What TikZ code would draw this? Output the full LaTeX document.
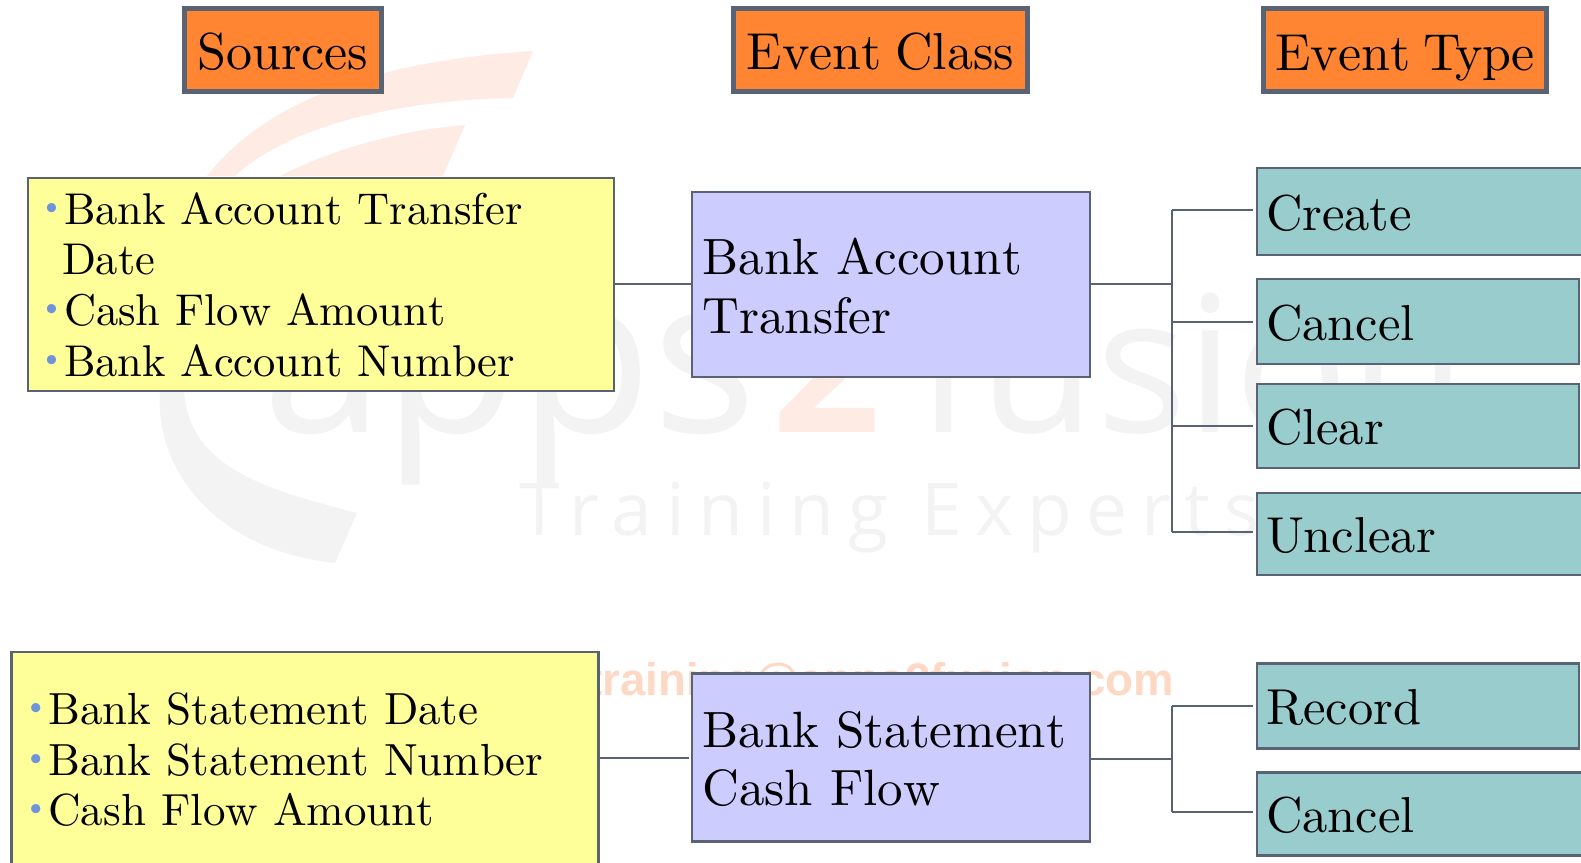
\documentclass[tikz,border=0pt]{standalone}
\usepackage{fontspec}
\setmainfont{lmroman10-regular.otf}[BoldFont=lmroman10-bold.otf,ItalicFont=lmroman10-italic.otf,Kerning=Off,WordSpace=0.75]
\newfontfamily\wmsans{Open Sans}
\newfontfamily\wmtrack[LetterSpace=19]{Open Sans}
\newfontfamily\wmbold{Liberation Sans}
\definecolor{edge}{HTML}{5A6374}
\definecolor{orangefill}{HTML}{FF8533}
\definecolor{yellowfill}{HTML}{FFFF99}
\definecolor{purplefill}{HTML}{CCCCFF}
\definecolor{tealfill}{HTML}{99CCCC}
\definecolor{bul}{HTML}{6F94DC}
\definecolor{wmgray}{HTML}{F3F3F3}
\definecolor{wmorange}{HTML}{FDEBE4}
\definecolor{wmmail}{HTML}{FDD9C5}
\newcommand{\blt}{\makebox[25pt][l]{\raisebox{9pt}{\fontsize{32}{32}\selectfont\color{bul}\textbullet}}}
\tikzset{
  boxbase/.style={rectangle,draw=edge,line width=2.6pt,align=left,anchor=center,text=black},
  lowered/.style={execute at begin node={\rule{0pt}{#1}}},
  headbox/.style={boxbase,fill=orangefill,line width=4.5pt,align=center,font=\fontsize{52}{58}\selectfont,inner sep=0pt,lowered=40pt},
  srcbox/.style={boxbase,fill=yellowfill,inner xsep=0pt,inner ysep=0pt},
  classbox/.style={boxbase,fill=purplefill,font=\fontsize{51}{58.5}\selectfont,inner xsep=10.5pt,inner ysep=0pt,lowered=39.5pt},
  typebox/.style={boxbase,fill=tealfill,font=\fontsize{50.5}{58}\selectfont,inner xsep=9pt,inner ysep=0pt,lowered=39pt},
  link/.style={draw=edge,line width=2.6pt},
  wmtext/.style={anchor=base west,inner sep=0pt}
}
\begin{document}
\begin{tikzpicture}[x=1pt,y=-1pt]
\useasboundingbox (0,0) rectangle (1581,862);
% watermark
\fill[wmorange] (207,176) .. controls (270,95) and (390,60) .. (533,51) -- (513,98) .. controls (400,100) and (290,125) .. (235,176) -- cycle;
\fill[wmorange] (280,176) .. controls (330,150) and (400,130) .. (465,125) -- (443,176) -- cycle;
\fill[wmgray] (200,392) -- (160,392) .. controls (155,470) and (215,550) .. (335,563) -- (357,513) .. controls (270,490) and (190,470) .. (184,392) -- cycle;
\node[wmtext,text=wmgray,font=\wmsans\fontsize{219}{219}\selectfont] (wmapps) at (262,432) {apps};
\node[wmtext,text=wmorange,font=\wmsans\bfseries\fontsize{190}{190}\selectfont] (wmtwo) at (772,432) {2};
\node[wmtext,text=wmgray,font=\wmsans\fontsize{190}{190}\selectfont] (wmfusion) at (915,432) {fusion};
\node[wmtext,text=wmgray,font=\wmtrack\fontsize{73}{73}\selectfont] (wmtrain) at (519,535) {Training Experts};
\node[wmtext,text=wmmail,font=\wmbold\bfseries\fontsize{45.6}{46}\selectfont] (wmmailtext) at (587,695) {training@apps2fusion.com};
% headers
\node[headbox,minimum width=197pt,minimum height=83pt] (hsrc) at (283,50) {Sources};
\node[headbox,minimum width=294pt,minimum height=83pt] (hcls) at (880.5,50) {Event Class};
\node[headbox,minimum width=283pt,minimum height=83pt] (htyp) at (1405,50) {\raisebox{0pt}[\height][0pt]{Event T\kern-6pt ype}};
% row 1
\node[srcbox,minimum width=586pt,minimum height=213pt,text width=586pt,font=\fontsize{44.5}{50.7}\selectfont] (s1) at (321,284.5) {\hspace*{11pt}\blt Bank Account Transfer\\\hspace*{34pt}Date\\\hspace*{11pt}\blt Cash Flow Amount\\\hspace*{11pt}\blt Bank Account Number};
\node[classbox,minimum width=398pt,minimum height=185pt,text width=377pt] (c1) at (891,284.5) {Bank Account\\Transfer};
\node[typebox,minimum width=380pt,minimum height=87pt,text width=362pt] (t1) at (1447,211.5) {Create};
\node[typebox,minimum width=322pt,minimum height=85pt,text width=304pt] (t2) at (1418,321.5) {Cancel};
\node[typebox,minimum width=322pt,minimum height=84pt,text width=304pt] (t3) at (1418,426) {Clear};
\node[typebox,minimum width=380pt,minimum height=82pt,text width=362pt] (t4) at (1447,534) {Unclear};
% row 2
\node[srcbox,minimum width=587pt,minimum height=280pt,text width=587pt,font=\fontsize{45}{50.5}\selectfont] (s2) at (305,792) {\hspace*{12pt}\blt Bank Statement Date\\\hspace*{12pt}\blt Bank Statement Number\\\hspace*{12pt}\blt Cash Flow Amount\\\strut};
\node[classbox,minimum width=398pt,minimum height=168pt,text width=377pt] (c2) at (891,757.5) {Bank Statement\\Cash Flow};
\node[typebox,minimum width=322pt,minimum height=85pt,text width=304pt] (t5) at (1418,706) {Record};
\node[typebox,minimum width=380pt,minimum height=83pt,text width=362pt] (t6) at (1447,814) {Cancel};
% connectors
\coordinate (j1) at (1172,284);
\coordinate (j2) at (1172,759);
\draw[link] (s1.east |- j1) -- (c1.west |- j1);
\draw[link] (c1.east |- j1) -- (j1);
\draw[link] (j1 |- 0,210) -- (j1 |- 0,532);
\foreach \n/\y in {t1/210,t2/322,t3/426,t4/532}{\draw[link] (j1 |- 0,\y) -- ([xshift=-3pt]\n.west |- 0,\y);}
\draw[link] (s2.east |- 0,758) -- ([xshift=-2pt]c2.west |- 0,758);
\draw[link] (c2.east |- j2) -- (j2);
\draw[link] (j2 |- 0,706) -- (j2 |- 0,812);
\foreach \n/\y in {t5/706,t6/812}{\draw[link] (j2 |- 0,\y) -- ([xshift=-3pt]\n.west |- 0,\y);}
\end{tikzpicture}
\end{document}
